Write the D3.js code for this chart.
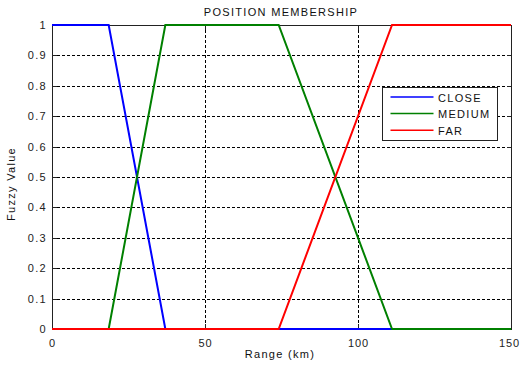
<!DOCTYPE html>
<html>
<head>
<meta charset="utf-8">
<script src="https://cdn.jsdelivr.net/npm/d3@7"></script>
<style>
  html, body { margin: 0; padding: 0; background: #fff; }
  svg { display: block; font-family: Arial, "Liberation Sans", sans-serif; }
  text { letter-spacing: 1.3px; }
  text.xtick { letter-spacing: 0.8px; }
</style>
</head>
<body>
<svg id="chart" width="521" height="366"></svg>
<script>
// Breakpoints of the membership functions (km)
const rangeKm = [0, 18.52, 37.04, 74.08, 111.12, 150];
const closeVals  = [1, 1, 0, 0, 0, 0];
const mediumVals = [0, 0, 1, 1, 0, 0];
const farVals    = [0, 0, 0, 0, 1, 1];
const seriesNames = ["CLOSE", "MEDIUM", "FAR"];
const seriesColors = ["#0000ff", "#008000", "#ff0000"];
const xTicks = [0, 50, 100, 150];
const yTicks = [0, 0.1, 0.2, 0.3, 0.4, 0.5, 0.6, 0.7, 0.8, 0.9, 1];

const svg = d3.select("#chart");
const plotL = 52, plotR = 511, plotT = 25, plotB = 329;

const x = d3.scaleLinear().domain([0, 150]).range([plotL, plotR]);
const y = d3.scaleLinear().domain([0, 1]).range([plotB, plotT]);

// grid
const grid = svg.append("g").attr("stroke", "#000").attr("stroke-width", 1)
  .attr("stroke-dasharray", "3,2").attr("shape-rendering", "crispEdges");
xTicks.slice(1, -1).forEach(t => {
  grid.append("line").attr("x1", Math.round(x(t)) + 0.5).attr("x2", Math.round(x(t)) + 0.5)
    .attr("y1", plotT).attr("y2", plotB);
});
yTicks.slice(1, -1).forEach(t => {
  grid.append("line").attr("y1", Math.round(y(t)) + 0.5).attr("y2", Math.round(y(t)) + 0.5)
    .attr("x1", plotL).attr("x2", plotR);
});

// axes box
svg.append("rect").attr("x", plotL + 0.5).attr("y", plotT + 0.5)
  .attr("width", plotR - plotL).attr("height", plotB - plotT)
  .attr("fill", "none").attr("stroke", "#222").attr("stroke-width", 1);

// tick marks (inward)
const ticks = svg.append("g").attr("stroke", "#222").attr("shape-rendering", "crispEdges");
yTicks.forEach(t => {
  const yy = Math.round(y(t)) + 0.5;
  ticks.append("line").attr("x1", plotL).attr("x2", plotL + 5).attr("y1", yy).attr("y2", yy);
  ticks.append("line").attr("x1", plotR - 4).attr("x2", plotR + 1).attr("y1", yy).attr("y2", yy);
});
xTicks.forEach(t => {
  const xx = Math.round(x(t)) + 0.5;
  ticks.append("line").attr("x1", xx).attr("x2", xx).attr("y1", plotB).attr("y2", plotB - 5);
  ticks.append("line").attr("x1", xx).attr("x2", xx).attr("y1", plotT).attr("y2", plotT + 5);
});

// tick labels
svg.append("g").selectAll("text").data(yTicks).join("text")
  .attr("x", plotL - 5).attr("y", d => y(d) + 4)
  .attr("text-anchor", "end").attr("font-size", 11).attr("fill", "#222")
  .text(d => String(d));
svg.append("g").selectAll("text").data(xTicks).join("text")
  .attr("class", "xtick")
  .attr("x", d => x(d) + (d === 150 ? -1.5 : 0.5)).attr("y", plotB + 18)
  .attr("text-anchor", "middle").attr("font-size", 11).attr("fill", "#222")
  .text(d => d);

// membership lines
const line = d3.line().x((d, i) => x(rangeKm[i])).y(d => y(d));
const lines = svg.append("g");
[closeVals, mediumVals, farVals].forEach((vals, i) => {
  lines.append("path").datum(vals).attr("d", line)
    .attr("fill", "none").attr("stroke", seriesColors[i]).attr("stroke-width", 2);
});

// titles
svg.append("text").attr("x", 281).attr("y", 15.5)
  .attr("text-anchor", "middle").attr("font-size", 11).attr("fill", "#111")
  .text("POSITION MEMBERSHIP");
svg.append("text").attr("x", 280).attr("y", 358)
  .attr("text-anchor", "middle").attr("font-size", 11).attr("fill", "#111")
  .text("Range (km)");
svg.append("text").attr("transform", "translate(15,184) rotate(-90)")
  .attr("text-anchor", "middle").attr("font-size", 11).attr("fill", "#111")
  .text("Fuzzy Value");

// legend
const lg = svg.append("g").attr("transform", "translate(382,87)");
lg.append("rect").attr("x", 0.5).attr("y", 0.5).attr("width", 115).attr("height", 53)
  .attr("fill", "#fff").attr("stroke", "#222");
seriesNames.forEach((name, i) => {
  const yy = 10 + i * 16.6;
  lg.append("line").attr("x1", 8.5).attr("x2", 51.5).attr("y1", yy).attr("y2", yy)
    .attr("stroke", seriesColors[i]).attr("stroke-width", 1.5);
  lg.append("text").attr("x", 56).attr("y", yy + 4.5).attr("font-size", 11).attr("fill", "#111")
    .text(name);
});
</script>
</body>
</html>
